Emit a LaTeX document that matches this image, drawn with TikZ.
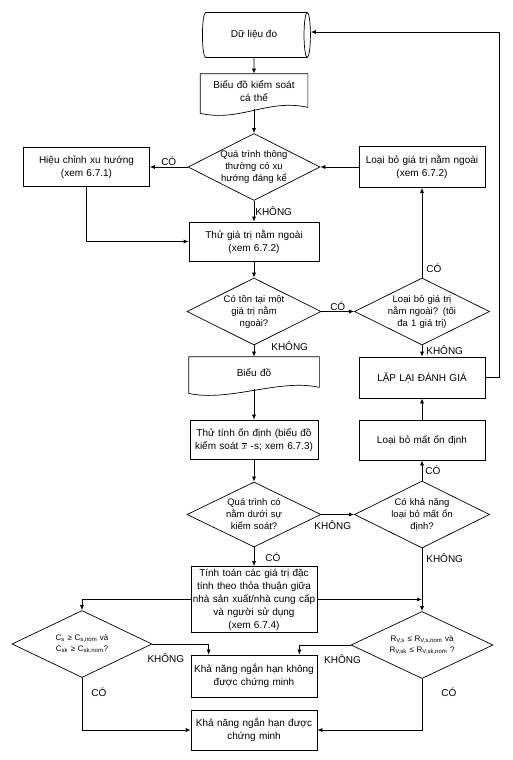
\documentclass[tikz,border=0pt]{standalone}
\usepackage{fontspec}
\setmainfont{Liberation Sans}
\usetikzlibrary{arrows.meta,shapes.geometric}
\newcommand{\docedge}[1]{%
  \draw (#1.north west) -- (#1.north east) -- ([yshift=2pt]#1.south east)
    .. controls +(-40,-9) and +(40,9) .. ([yshift=-4pt]#1.south west) -- cycle;}

\begin{document}
\begin{tikzpicture}[x=1pt, y=-1pt, >={Latex[length=5pt,width=4pt]}, line width=0.7pt,
  box/.style={draw, rectangle, minimum width=126pt, minimum height=40pt, text width=124pt,
    align=center, inner sep=1pt, font=\fontsize{10}{13}\selectfont},
  doc/.style={box, draw=none},
  cyl/.style={draw, cylinder, aspect=0.5, minimum width=45pt, minimum height=108pt,
    inner sep=2pt, font=\fontsize{10}{13}\selectfont},
  dec/.style={draw, diamond, aspect=2, minimum width=134pt, minimum height=67pt,
    inner sep=-3pt, text width=70pt, align=center, font=\fontsize{9.5}{12}\selectfont},
  cond/.style={dec, text width=95pt, font=\fontsize{8}{11}\selectfont},
  lbl/.style={font=\fontsize{10}{12}\selectfont, inner sep=1pt}]
  \useasboundingbox (0,0) rectangle (512,760);

  \node[cyl] (data) at (254,35) {Dữ liệu đo};
  \node[doc, minimum width=107pt, text width=100pt, minimum height=35pt] (chart1) at (254,91.5) {Biểu đồ kiểm soát\\cá thể};
  \docedge{chart1}
  \node[dec, minimum width=132pt] (d1) at (254,167) {Quá trình thông\\thường có xu\\hướng đáng kể};
  \node[box, minimum width=125pt, minimum height=39pt] (trend) at (86.5,167) {Hiệu chỉnh xu hướng\\(xem 6.7.1)};
  \node[box, minimum height=41pt] (rmout) at (422,167) {Loại bỏ giá trị nằm ngoài\\(xem 6.7.2)};
  \node[box, minimum width=130pt, minimum height=39pt] (test1) at (254,241.5) {Thử giá trị nằm ngoài\\(xem 6.7.2)};
  \node[dec] (d2) at (254,311.5) {Có tồn tại một\\giá trị nằm\\ngoài?};
  \node[dec, minimum width=135pt] (d3) at (422,311.5) {Loại bỏ giá trị\\nằm ngoài? (tối\\đa 1 giá trị)};
  \node[doc, minimum width=130pt, minimum height=32pt] (chart2) at (254,373) {Biểu đồ};
  \docedge{chart2}
  \node[box, minimum height=41pt] (redo) at (422,377.5) {LẶP LẠI ĐÁNH GIÁ};
  \node[box, minimum width=128pt, minimum height=39pt] (stab) at (254,439.5) {Thử tính ổn định (biểu đồ\\kiểm soát $\overline{x}$ -s; xem 6.7.3)};
  \node[box] (rmunst) at (422,440) {Loại bỏ mất ổn định};
  \node[dec, minimum height=65pt] (d4) at (254,514.5) {Quá trình có\\nằm dưới sự\\kiểm soát?};
  \node[dec, minimum width=135pt] (d5) at (422,514.5) {Có khả năng\\loại bỏ mất ổn\\định?};
  \node[box, minimum height=66pt] (calc) at (254,599.5) {Tính toán các giá trị đặc\\tính theo thỏa thuận giữa\\nhà sản xuất/nhà cung cấp\\và người sử dụng\\(xem 6.7.4)};
  \node[cond, minimum width=140pt] (d6) at (82,644) {C\textsubscript{s} ≥ C\textsubscript{s,nom} và\\C\textsubscript{sk} ≥ C\textsubscript{sk,nom}?};
  \node[cond, minimum width=142pt] (d7) at (422,645) {R\textsubscript{V,s} ≤ R\textsubscript{V,s,nom} và\\R\textsubscript{V,sk} ≤ R\textsubscript{V,sk,nom} ?};
  \node[box, minimum height=42pt] (fail) at (254,676) {Khả năng ngắn hạn không\\được chứng minh};
  \node[box] (pass) at (254,730) {Khả năng ngắn hạn được\\chứng minh};

  \draw[->] (data) -- (chart1);
  \draw[->] (chart1.south) -- (d1.north);
  \draw[->] (d1.west) -- node[lbl, above] {CÓ} (trend.east);
  \draw[->] (rmout.west) -- (d1.east);
  \draw[->] (d1.south) -- node[lbl, right] {KHÔNG} (test1.north);
  \draw[->] (trend.south) |- (test1.west);
  \draw[->] (test1.south) -- (d2.north);
  \draw[->] (d2.east) -- node[lbl, above] {CÓ} (d3.west);
  \draw[->] (d3.north) -- node[lbl, pos=0.11, right=3pt] {CÓ} (rmout.south);
  \draw[->] (d2.south) -- node[lbl, pos=0.1, right=16pt] {KHÔNG} (chart2.north);
  \draw[->] (d3.south) -- node[lbl, pos=0.4, right=3pt] {KHÔNG} (redo.north);
  \draw[->] (redo.east) -- ++(14,0) |- ([yshift=3pt]data.east);
  \draw[->] (chart2.south) -- (stab.north);
  \draw[->] (stab.south) -- (d4.north);
  \draw[->] (d4.east) -- node[lbl, pos=0.35, below=5pt] {KHÔNG} (d5.west);
  \draw[->] (d5.north) -- node[lbl, right=2pt] {CÓ} (rmunst.south);
  \draw[->] (rmunst.north) -- (redo.south);
  \draw[->] (d4.south) -- node[lbl, right=10pt] {CÓ} (calc.north);
  \draw[->] (d5.south) -- node[lbl, pos=0.16, right=3pt] {KHÔNG} (d7.north);
  \draw[->] (calc.east) -- (calc.east -| d7.north);
  \draw[->] (calc.west) -| (d6.north);
  \draw[->] (d6.east) -| node[lbl, pos=0.12, below=8pt] {KHÔNG} ([xshift=18pt]fail.north west);
  \draw[->] (d7.west) -| node[lbl, pos=0.08, below=8pt] {KHÔNG} ([xshift=-18pt]fail.north east);
  \draw[->] (d6.south) |- node[lbl, pos=0.14, right=8pt] {CÓ} (pass.west);
  \draw[->] (d7.south) |- node[lbl, pos=0.13, right=18pt] {CÓ} (pass.east);
\end{tikzpicture}
\end{document}
